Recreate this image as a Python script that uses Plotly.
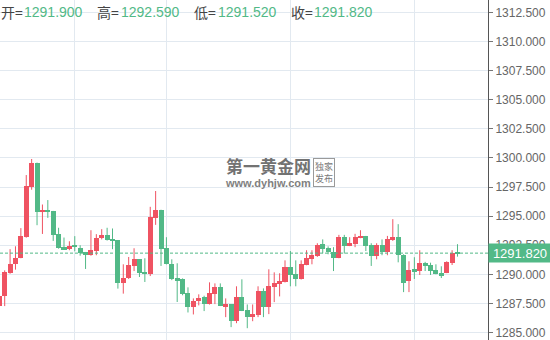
import plotly.graph_objects as go

# ---- data ----
opens = [1287.30, 1288.13, 1290.11, 1290.92, 1291.40, 1293.20, 1297.50, 1299.57, 1295.37, 1295.50,
         1295.40, 1293.45, 1292.33, 1292.16, 1292.56, 1292.30, 1291.90, 1291.67, 1292.00, 1293.08,
         1293.36, 1293.00, 1292.93, 1289.25, 1289.68, 1290.72, 1291.29, 1290.17, 1290.03, 1294.85,
         1295.52, 1292.24, 1290.92, 1289.66, 1289.60, 1288.36, 1287.18, 1287.67, 1288.02, 1287.44,
         1288.30, 1288.88, 1287.27, 1287.41, 1285.97, 1288.02, 1286.90, 1286.32, 1286.47, 1288.53,
         1287.16, 1288.88, 1289.14, 1289.31, 1290.60, 1290.00, 1289.57, 1290.80, 1291.29, 1291.55,
         1292.59, 1292.24, 1291.90, 1291.40, 1293.19, 1292.44, 1292.60, 1293.13, 1293.28, 1292.50,
         1291.58, 1292.50, 1291.90, 1292.93, 1293.19, 1291.70, 1289.43, 1290.43, 1290.28, 1290.95,
         1290.78, 1290.34, 1290.09, 1290.11, 1291.00, 1291.90]
highs = [1288.30, 1290.34, 1292.16, 1292.41, 1293.97, 1298.53, 1299.91, 1299.60, 1296.00, 1296.38,
         1295.45, 1294.00, 1293.16, 1292.84, 1293.28, 1292.50, 1291.92, 1293.79, 1293.45, 1293.88,
         1294.00, 1293.94, 1292.95, 1290.86, 1291.49, 1292.24, 1291.30, 1291.38, 1295.80, 1297.16,
         1295.55, 1293.19, 1291.29, 1290.95, 1289.65, 1288.88, 1287.93, 1288.28, 1288.16, 1289.31,
         1289.22, 1289.22, 1287.93, 1287.45, 1288.97, 1289.57, 1287.41, 1287.41, 1288.97, 1288.79,
         1290.43, 1290.17, 1290.09, 1291.20, 1292.00, 1291.20, 1291.20, 1292.07, 1292.07, 1292.67,
         1293.00, 1292.40, 1292.33, 1293.39, 1293.39, 1293.19, 1293.48, 1293.79, 1293.30, 1292.67,
         1292.67, 1293.00, 1293.30, 1294.74, 1294.31, 1291.72, 1291.12, 1291.47, 1292.07, 1291.07,
         1291.00, 1290.86, 1290.69, 1291.12, 1292.07, 1292.59]
lows = [1287.00, 1287.27, 1290.05, 1290.40, 1291.38, 1293.15, 1297.27, 1294.22, 1293.47, 1294.85,
        1292.87, 1292.20, 1292.10, 1292.07, 1291.98, 1291.60, 1290.46, 1291.60, 1291.64, 1293.00,
        1292.90, 1292.16, 1288.77, 1288.34, 1289.60, 1290.28, 1289.77, 1289.34, 1289.85, 1294.25,
        1290.72, 1290.85, 1289.50, 1287.62, 1288.20, 1286.72, 1286.55, 1287.33, 1286.84, 1287.40,
        1287.44, 1287.27, 1286.32, 1285.46, 1285.80, 1286.84, 1285.37, 1285.97, 1286.32, 1286.32,
        1286.58, 1287.61, 1288.10, 1289.30, 1288.97, 1288.97, 1289.55, 1290.78, 1290.86, 1291.50,
        1291.81, 1291.72, 1290.28, 1291.38, 1291.78, 1292.42, 1292.33, 1293.10, 1292.00, 1290.72,
        1291.29, 1291.64, 1291.64, 1292.87, 1291.03, 1288.47, 1288.47, 1289.60, 1289.94, 1290.28,
        1289.94, 1290.00, 1289.68, 1290.10, 1290.80, 1291.52]
closes = [1288.10, 1290.17, 1290.92, 1291.44, 1293.28, 1297.59, 1299.57, 1295.37, 1295.50, 1295.37,
          1293.40, 1292.24, 1292.16, 1292.41, 1292.33, 1291.84, 1291.67, 1292.07, 1293.10, 1293.36,
          1292.93, 1292.87, 1289.25, 1289.71, 1290.78, 1291.29, 1290.11, 1290.03, 1294.91, 1295.52,
          1292.16, 1290.89, 1289.60, 1289.50, 1288.30, 1287.18, 1287.67, 1288.00, 1287.44, 1288.36,
          1288.88, 1287.27, 1287.41, 1285.97, 1288.02, 1286.84, 1286.32, 1286.55, 1288.53, 1287.16,
          1288.97, 1289.22, 1289.40, 1290.60, 1289.97, 1289.57, 1290.86, 1291.38, 1291.64, 1292.50,
          1292.16, 1291.90, 1291.44, 1293.19, 1292.44, 1292.67, 1293.19, 1293.30, 1292.44, 1291.58,
          1292.50, 1291.90, 1293.00, 1293.19, 1291.70, 1289.25, 1290.40, 1290.28, 1290.95, 1290.72,
          1290.28, 1290.03, 1289.85, 1291.06, 1291.87, 1291.82]

y_ticks = [1285.0, 1287.5, 1290.0, 1292.5, 1295.0, 1297.5, 1300.0, 1302.5, 1305.0, 1307.5, 1310.0, 1312.5]
x_grid = [14, 31, 54, 77]

header_labels = ["开=", "高=", "低=", "收="]
header_values = ["1291.900", "1292.590", "1291.520", "1291.820"]
last_price = 1291.82

RED = "#ef5362"
GREEN = "#52b987"

idx = list(range(len(opens)))
up = [c >= o for o, c in zip(opens, closes)]
colors = [RED if u else GREEN for u in up]
base = [min(o, c) for o, c in zip(opens, closes)]
height = [max(abs(c - o), 0.12) for o, c in zip(opens, closes)]

fig = go.Figure()

# wicks
for col, flag in ((RED, True), (GREEN, False)):
    xs, ys = [], []
    for i in idx:
        if up[i] == flag:
            xs += [i, i, None]
            ys += [lows[i], highs[i], None]
    fig.add_trace(go.Scatter(x=xs, y=ys, mode="lines", line=dict(color=col, width=1),
                             hoverinfo="skip", showlegend=False))

# bodies
fig.add_trace(go.Bar(x=idx, y=height, base=base, width=0.93,
                     marker=dict(color=colors, line=dict(width=0)),
                     showlegend=False))

W_PLOT = 488.0
H = 340.0

fig.update_layout(
    width=550, height=340,
    margin=dict(l=0, r=62, t=0, b=0),
    paper_bgcolor="white", plot_bgcolor="white",
    barmode="overlay", bargap=0,
    showlegend=False,
    xaxis=dict(range=[0.128, 90.66], tickvals=x_grid, showticklabels=False,
               showgrid=True, gridcolor="#e2e9f0", gridwidth=1, zeroline=False,
               ticks="", showline=False, fixedrange=True),
    yaxis=dict(side="right", range=[1284.355, 1313.574], tickvals=y_ticks,
               tickformat=".3f", showgrid=True, gridcolor="#e2e9f0", gridwidth=1,
               zeroline=False, showline=True, linecolor="#555555", linewidth=1,
               ticks="outside", ticklen=4, tickcolor="#777777",
               tickfont=dict(family="Liberation Sans, Arial", size=12, color="#666666"),
               fixedrange=True),
)

# last price dashed line
fig.add_shape(type="line", xref="paper", x0=0, x1=1, yref="y", y0=last_price, y1=last_price,
              line=dict(color=GREEN, width=1, dash="3px,2px"))

# last price label
fig.add_annotation(xref="paper", x=1.0, xanchor="left", yref="y", y=last_price, yanchor="middle",
                   text=f"{last_price:.3f}", showarrow=False, bgcolor=GREEN,
                   font=dict(family="Liberation Sans, Arial", size=13, color="white"),
                   width=58, height=14, borderpad=2, align="center")

# header
lab_x = [-1, 95, 192, 289]
val_x = [22, 119, 216, 312]
hy = 1 - 12 / H
for lx, vx, lab, val in zip(lab_x, val_x, header_labels, header_values):
    fig.add_annotation(xref="paper", x=lx / W_PLOT, xanchor="left", yref="paper", y=hy,
                       yanchor="middle", text=lab, showarrow=False,
                       font=dict(family="Noto Sans CJK SC, Liberation Sans", size=14, color="#444444"))
    fig.add_annotation(xref="paper", x=vx / W_PLOT, xanchor="left", yref="paper", y=hy,
                       yanchor="middle", text=val, showarrow=False,
                       font=dict(family="Liberation Sans, Arial", size=14, color=GREEN))

# watermark
fig.add_annotation(xref="paper", x=268 / W_PLOT, yref="paper", y=1 - 165 / H,
                   text="<b>第一黄金网</b>", showarrow=False,
                   font=dict(family="Noto Sans CJK SC", size=17, color="#727272"))
fig.add_annotation(xref="paper", x=268 / W_PLOT, yref="paper", y=1 - 183 / H,
                   text="<b>www.dyhjw.com</b>", showarrow=False,
                   font=dict(family="Liberation Sans, Arial", size=11, color="#808080"))
fig.add_annotation(xref="paper", x=335 / W_PLOT, yref="paper", y=1 - 172 / H,
                   text="独家<br>发布", showarrow=False, bordercolor="#9a9a9a", borderwidth=1,
                   borderpad=1,
                   font=dict(family="Noto Sans CJK SC", size=9, color="#7a7a7a"))

fig.write_html("out.html")
